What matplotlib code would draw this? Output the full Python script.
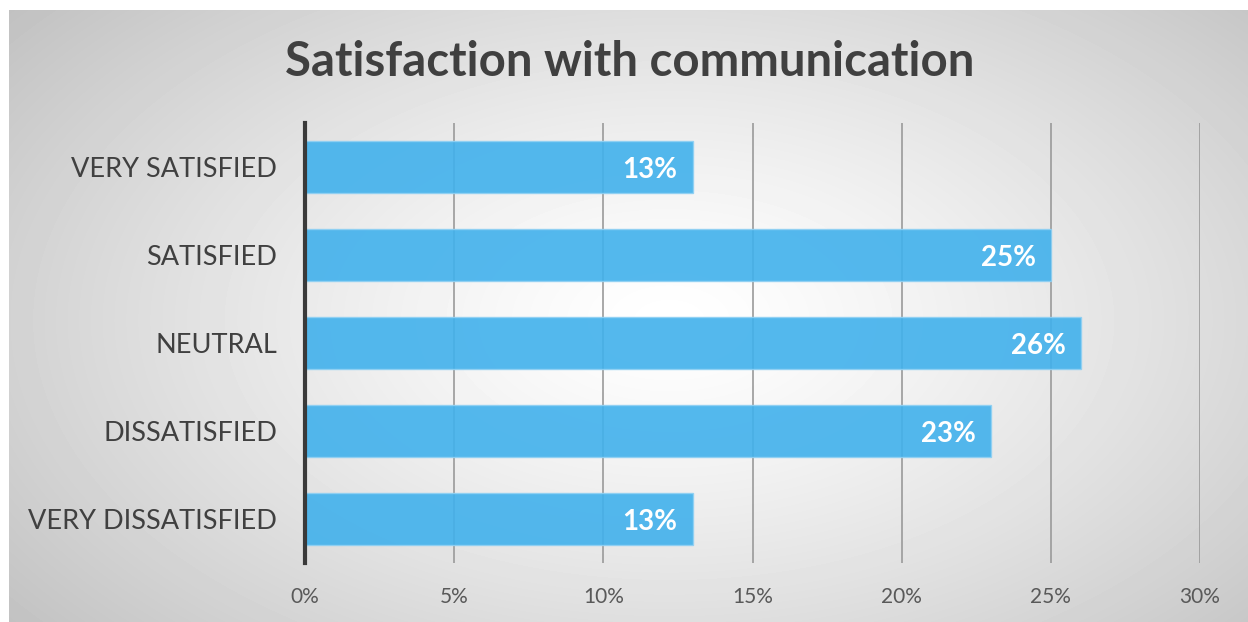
import numpy as np
import matplotlib.pyplot as plt
from matplotlib.ticker import FuncFormatter

categories = ["VERY SATISFIED", "SATISFIED", "NEUTRAL", "DISSATISFIED", "VERY DISSATISFIED"]
shares = [13, 25, 26, 23, 13]
x_ticks = [0, 5, 10, 15, 20, 25, 30]

plt.rcParams["font.family"] = ["Lato", "DejaVu Sans"]

W, H = 1248, 622
fig = plt.figure(figsize=(W / 100, H / 100), dpi=100)
fig.patch.set_facecolor("white")

# radial grey-to-white backdrop of the chart area
bg = fig.add_axes([9 / W, 0, 1 - 9 / W, 1 - 10 / H])
yy, xx = np.mgrid[0:612, 0:1239]
cx, cy = 660, 310
r = np.sqrt(((xx - cx) / 720.0) ** 2 + ((yy - cy) / 420.0) ** 2)
shade = 1.0 - 0.25 * np.clip(r, 0, 1.2) ** 1.3 / 1.2 ** 1.3
bg.imshow(shade, cmap="gray", vmin=0, vmax=1, aspect="auto", interpolation="bilinear")
bg.set_axis_off()

ax = fig.add_axes([305 / W, 1 - 563 / H, (1200 - 305) / W, (563 - 123) / H])
ax.patch.set_alpha(0)

y = np.arange(len(categories))
ax.barh(y, shares, height=0.59, color="#41b1ec", alpha=0.9,
        edgecolor="#8fd0f3", linewidth=1, zorder=3)

for yi, v in zip(y, shares):
    ax.annotate(f"{v}%", (v, yi), xytext=(-11, -2), textcoords="offset points",
                ha="right", va="center", color="white", fontsize=20,
                fontweight="bold", zorder=4)

ax.set_xlim(0, 30)
ax.set_ylim(len(categories) - 0.5, -0.5)
ax.set_xticks(x_ticks)
ax.xaxis.set_major_formatter(FuncFormatter(lambda v, _: f"{v:.0f}%"))
ax.set_yticks(y)
ax.set_yticklabels(categories)
ax.tick_params(axis="x", length=0, pad=17, labelsize=15, labelcolor="#595959")
ax.tick_params(axis="y", length=0, pad=20, labelsize=19.5, labelcolor="#404040")

ax.xaxis.grid(True, color="#9a9a9a", linewidth=1.2, zorder=1)
ax.set_axisbelow(True)
for side in ("top", "right", "bottom"):
    ax.spines[side].set_visible(False)
ax.spines["left"].set_color("#3a3a3a")
ax.spines["left"].set_linewidth(3)
ax.spines["left"].set_zorder(5)

fig.text(630 / W, 1 - 62 / H, "Satisfaction with communication", ha="center", va="center",
         fontsize=34, fontweight="bold", color="#404040")

fig.savefig("out.png", dpi=100)
